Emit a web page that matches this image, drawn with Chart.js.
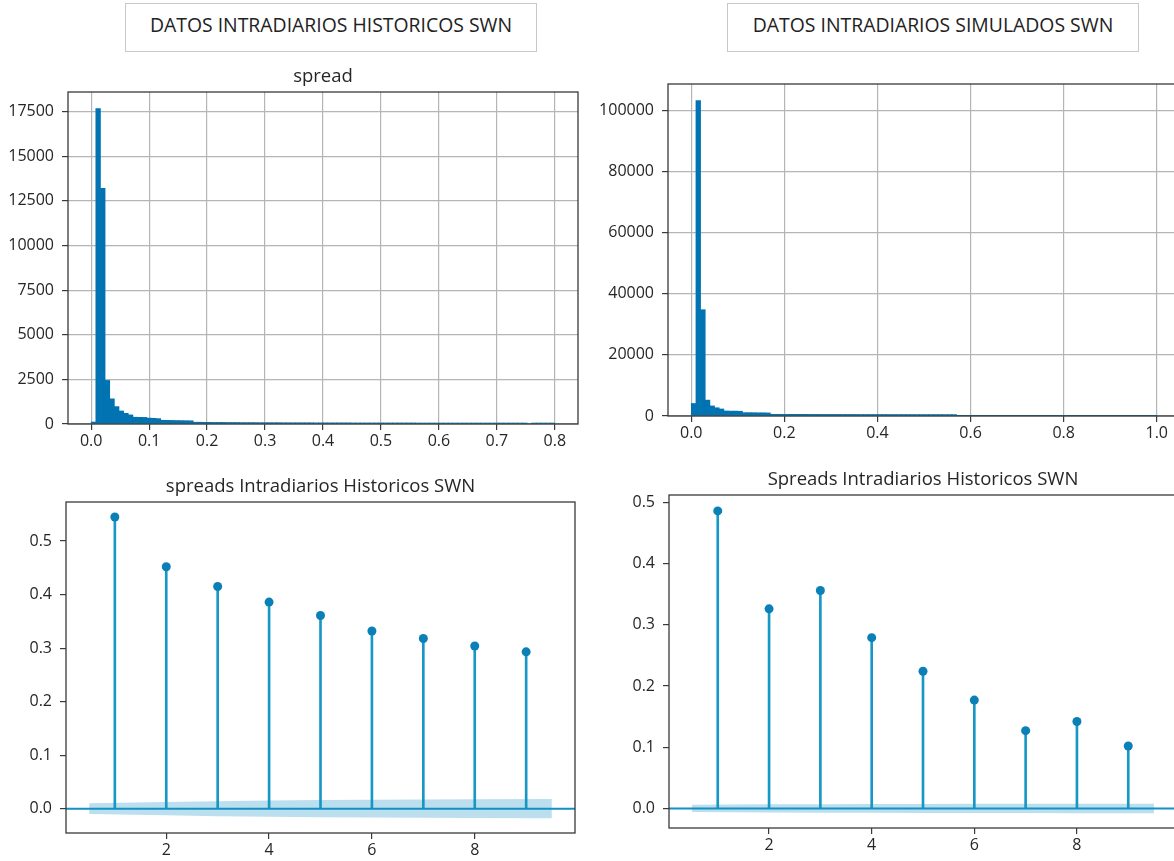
<!DOCTYPE html>
<html lang="es">
<head>
<meta charset="UTF-8">
<title>Datos intradiarios SWN</title>
<script src="https://cdn.jsdelivr.net/npm/chart.js@4"></script>
<style>
  html, body { margin: 0; padding: 0; background: #fff; }
  body { width: 1174px; height: 861px; overflow: hidden; position: relative; font-family: "Open Sans", sans-serif; }
  .header { position: absolute; top: 3px; height: 49px; border: 1px solid #c8c8c8; box-sizing: border-box; }
  .header span { position: absolute; left: 0; right: 0; top: 11px; line-height: 20px; text-align: center; font-size: 19.4px; color: #222; white-space: nowrap; }
  canvas { position: absolute; }
</style>
</head>
<body>
  <div class="header" style="left:125px; width:412px;"><span>DATOS INTRADIARIOS HISTORICOS SWN</span></div>
  <div class="header" style="left:727px; width:412px;"><span>DATOS INTRADIARIOS SIMULADOS SWN</span></div>

  <canvas id="histChart"></canvas>
  <canvas id="simChart"></canvas>
  <canvas id="acfHistChart"></canvas>
  <canvas id="acfSimChart"></canvas>

<script>
// ---- data ----
const histBinWidth = 0.008;
const histCounts = [
  110, 17670, 13200, 2440, 1410, 975, 730, 600, 510, 380,
  375, 370, 330, 320, 300, 210, 205, 200, 195, 190,
  185, 180, 100, 100, 95, 95, 90, 90, 90, 85,
  85, 85, 80, 80, 80, 80, 75, 75, 75, 75,
  75, 70, 70, 70, 70, 70, 70, 70, 65, 65,
  65, 65, 65, 65, 65, 65, 60, 60, 60, 60,
  60, 60, 60, 60, 60, 60, 60, 60, 60, 60,
  55, 55, 55, 55, 55, 55, 55, 55, 55, 55,
  55, 55, 55, 55, 55, 55, 55, 55, 55, 55,
  55, 55, 55, 55, 0, 55, 55, 55, 55, 55
];
const simBinWidth = 0.01;
const simCounts = [
  4100, 103270, 34800, 5200, 3300, 2700, 2300, 1650, 1600, 1600,
  1550, 1100, 1100, 1080, 1050, 1050, 1000, 560, 560, 550,
  550, 550, 540, 540, 540, 530, 530, 530, 520, 520,
  520, 520, 510, 510, 510, 510, 500, 500, 500, 500,
  500, 500, 490, 490, 490, 490, 490, 480, 480, 480,
  480, 480, 480, 480, 470, 470, 470, 3, 3, 2,
  2, 2, 2, 2, 2, 2, 2, 2, 2, 2,
  2, 1, 1, 1, 1, 1, 1, 1, 1, 1,
  1, 1, 1, 1, 1, 1, 1, 1, 1, 1,
  1, 1, 1, 1, 1, 1, 1, 1, 1, 1
];

const lags = [1, 2, 3, 4, 5, 6, 7, 8, 9];
const acfHist = [0.545, 0.452, 0.415, 0.386, 0.361, 0.332, 0.318, 0.304, 0.293];
const acfSim = [0.486, 0.326, 0.356, 0.279, 0.224, 0.177, 0.127, 0.142, 0.102];

// confidence band (half width around zero)
const bandLags = [0.5, 2, 3, 4, 5, 6, 7, 8, 9.5];
const bandHist = [0.0100, 0.0125, 0.0140, 0.0152, 0.0160, 0.0166, 0.0171, 0.0175, 0.0178];
const bandSim = [0.0058, 0.0066, 0.0070, 0.0072, 0.0074, 0.0075, 0.0076, 0.0077, 0.0077];

const histXTicks = [0, 0.1, 0.2, 0.3, 0.4, 0.5, 0.6, 0.7, 0.8];
const histYTicks = [0, 2500, 5000, 7500, 10000, 12500, 15000, 17500];
const simXTicks = [0, 0.2, 0.4, 0.6, 0.8, 1.0];
const simYTicks = [0, 20000, 40000, 60000, 80000, 100000];
const lagTicks = [2, 4, 6, 8];
const acfYTicks = [0, 0.1, 0.2, 0.3, 0.4, 0.5];

// ---- layout (plot area boxes in page pixels) ----
const TITLE_H = 26, XAXIS_H = 40, PAD_R = 10, PAD_TOP_NOTITLE = 20;
const boxes = {
  histChart:    { L: 68,  T: 92,  R: 578,  B: 424, wy: 66, title: true },
  simChart:     { L: 668, T: 84,  R: 1180, B: 416, wy: 80, title: false },
  acfHistChart: { L: 66,  T: 502, R: 575,  B: 833, wy: 60, title: true },
  acfSimChart:  { L: 669, T: 495, R: 1177, B: 828, wy: 80, title: true }
};

const FONT = '"Open Sans", sans-serif';
const tickFont = { family: FONT, size: 16 };
const textColor = '#262626';
const spineColor = '#3a3a3a';

function place(id) {
  const g = boxes[id];
  const top = g.title ? TITLE_H : PAD_TOP_NOTITLE;
  const cv = document.getElementById(id);
  cv.width = g.R - g.L + g.wy + PAD_R;
  cv.height = g.B - g.T + top + XAXIS_H;
  cv.style.left = (g.L - g.wy) + 'px';
  cv.style.top = (g.T - top) + 'px';
  return cv;
}

// box round the plot area (matplotlib spines)
const frame = {
  id: 'frame',
  afterDraw(chart) {
    const a = chart.chartArea, c = chart.ctx;
    c.save();
    c.strokeStyle = spineColor;
    c.lineWidth = 1.3;
    c.strokeRect(a.left, a.top, a.right - a.left, a.bottom - a.top);
    c.restore();
  }
};

// horizontal line at y = 0 for the acf plots
const zeroLine = {
  id: 'zeroLine',
  afterDatasetsDraw(chart) {
    const a = chart.chartArea, c = chart.ctx;
    const y = chart.scales.y.getPixelForValue(0);
    c.save();
    c.strokeStyle = '#1490c2';
    c.lineWidth = 2;
    c.beginPath();
    c.moveTo(a.left, y);
    c.lineTo(a.right, y);
    c.stroke();
    c.restore();
  }
};

function axis(min, max, ticks, fmt, withGrid) {
  return {
    type: 'linear',
    min: min,
    max: max,
    offset: false,
    afterBuildTicks: s => { s.ticks = ticks.map(v => ({ value: v })); },
    border: { display: false },
    grid: {
      offset: false,
      drawOnChartArea: withGrid,
      color: '#b5b5b5',
      lineWidth: 1.2,
      drawTicks: true,
      tickLength: 6,
      tickColor: spineColor,
      tickWidth: 1.2
    },
    ticks: { font: tickFont, color: textColor, autoSkip: false, maxRotation: 0, callback: fmt }
  };
}

function titleOpt(text) {
  return {
    display: !!text,
    text: text,
    fullSize: false,
    color: textColor,
    font: { family: FONT, size: 18.5, weight: 'normal', lineHeight: '22px' },
    padding: { top: 0, bottom: 4 }
  };
}

function baseOptions(id, title, xs, ys) {
  const g = boxes[id];
  xs.afterFit = s => { s.height = XAXIS_H; };
  xs.ticks.padding = 2;
  ys.afterFit = s => { s.width = g.wy; };
  ys.ticks.padding = 8;
  return {
    responsive: false,
    animation: false,
    layout: { padding: { left: 0, right: PAD_R, top: g.title ? 0 : PAD_TOP_NOTITLE, bottom: 0 } },
    plugins: { legend: { display: false }, tooltip: { enabled: false }, title: titleOpt(title) },
    scales: { x: xs, y: ys }
  };
}

function histogram(id, counts, binWidth, title, xmin, xmax, xt, ymax, yt, xDec) {
  new Chart(place(id), {
    type: 'bar',
    data: {
      datasets: [{
        data: counts.map((c, i) => ({ x: (i + 0.5) * binWidth, y: c })),
        backgroundColor: '#0173b2',
        borderWidth: 0,
        barPercentage: 1,
        categoryPercentage: 1,
        grouped: false
      }]
    },
    options: baseOptions(id, title,
      axis(xmin, xmax, xt, v => v.toFixed(xDec), true),
      axis(0, ymax, yt, v => String(v), true)),
    plugins: [frame]
  });
}

function acfPlot(id, values, band, title, ymin, ymax) {
  const pts = lags.map((x, i) => ({ x: x, y: values[i] }));
  new Chart(place(id), {
    type: 'bar',
    data: {
      datasets: [
        { type: 'line', data: bandLags.map((x, i) => ({ x: x, y: band[i] })),
          borderWidth: 0, pointRadius: 0, fill: false, order: 4 },
        { type: 'line', data: bandLags.map((x, i) => ({ x: x, y: -band[i] })),
          borderWidth: 0, pointRadius: 0, fill: '-1', backgroundColor: 'rgba(10,140,195,0.28)', order: 3 },
        { type: 'bar', data: pts, backgroundColor: '#1797c6', barThickness: 2, borderWidth: 0, order: 2 },
        { type: 'line', data: pts, showLine: false, pointRadius: 4.5,
          pointBackgroundColor: '#0b80b6', pointBorderWidth: 0, order: 1 }
      ]
    },
    options: baseOptions(id, title,
      axis(0.05, 9.95, lagTicks, v => String(v), false),
      axis(ymin, ymax, acfYTicks, v => v.toFixed(1), false)),
    plugins: [frame, zeroLine]
  });
}

histogram('histChart', histCounts, histBinWidth, 'spread', -0.04, 0.84, histXTicks, 18600, histYTicks, 1);
histogram('simChart', simCounts, simBinWidth, '', -0.05, 1.05, simXTicks, 108700, simYTicks, 1);
acfPlot('acfHistChart', acfHist, bandHist, 'spreads Intradiarios Historicos SWN', -0.0455, 0.573);
acfPlot('acfSimChart', acfSim, bandSim, 'Spreads Intradiarios Historicos SWN', -0.032, 0.512);
</script>
</body>
</html>
